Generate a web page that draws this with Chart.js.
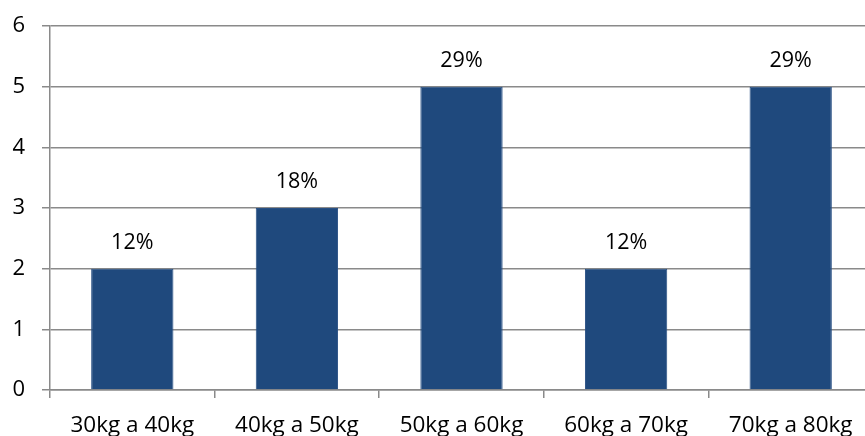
<!DOCTYPE html>
<html>
<head>
<meta charset="utf-8">
<script src="https://cdn.jsdelivr.net/npm/chart.js@4/dist/chart.umd.min.js"></script>
<style>
  html, body { margin: 0; padding: 0; background: #ffffff; overflow: hidden; }
  #wrap { width: 873px; height: 440px; position: relative; }
</style>
</head>
<body>
<div id="wrap"><canvas id="chart"></canvas></div>
<script>
// Weight ranges and the number of people in each
const categories = ['30kg a 40kg', '40kg a 50kg', '50kg a 60kg', '60kg a 70kg', '70kg a 80kg'];
const counts = [2, 3, 5, 2, 5];
const shareLabels = ['12%', '18%', '29%', '12%', '29%'];
const yTicks = [0, 1, 2, 3, 4, 5, 6];

const FONT = '"Open Sans", "Liberation Sans", sans-serif';
const GRID = '#8a8a8a';

// Writes the share text centred above each bar
const barValueLabels = {
  id: 'barValueLabels',
  afterDatasetsDraw(chart) {
    const ctx = chart.ctx;
    const meta = chart.getDatasetMeta(0);
    ctx.save();
    ctx.font = '21.5px ' + FONT;
    ctx.fillStyle = '#000000';
    ctx.textAlign = 'center';
    ctx.textBaseline = 'alphabetic';
    meta.data.forEach((bar, i) => {
      ctx.fillText(shareLabels[i], bar.x, bar.y - 20);
    });
    ctx.restore();
  }
};

new Chart(document.getElementById('chart'), {
  type: 'bar',
  data: {
    labels: categories,
    datasets: [{
      data: counts,
      backgroundColor: '#1f497d',
      borderColor: '#2a5185',
      borderWidth: 1,
      barPercentage: 0.5,
      categoryPercentage: 1.0
    }]
  },
  options: {
    responsive: true,
    maintainAspectRatio: false,
    animation: false,
    layout: { padding: { top: 26, right: 0, left: 0, bottom: 0 } },
    plugins: {
      legend: { display: false },
      tooltip: { enabled: false }
    },
    scales: {
      x: {
        afterFit(scale) { scale.height = 50; },
        grid: {
          offset: true,
          drawOnChartArea: false,
          drawTicks: true,
          tickLength: 8,
          color: GRID,
          lineWidth: 1.5
        },
        border: { display: true, color: GRID, width: 1.5 },
        ticks: {
          color: '#000000',
          font: { family: FONT, size: 22.5 },
          padding: 14,
          maxRotation: 0,
          autoSkip: false
        }
      },
      y: {
        min: 0,
        max: 6,
        afterFit(scale) { scale.width = 50; },
        afterBuildTicks(scale) { scale.ticks = yTicks.map(v => ({ value: v })); },
        grid: {
          color: GRID,
          lineWidth: 1.5,
          drawTicks: true,
          tickLength: 8
        },
        border: { display: true, color: GRID, width: 1.5 },
        ticks: {
          color: '#000000',
          font: { family: FONT, size: 22, lineHeight: 0.4 },
          padding: 17
        }
      }
    }
  },
  plugins: [barValueLabels]
});
</script>
</body>
</html>
